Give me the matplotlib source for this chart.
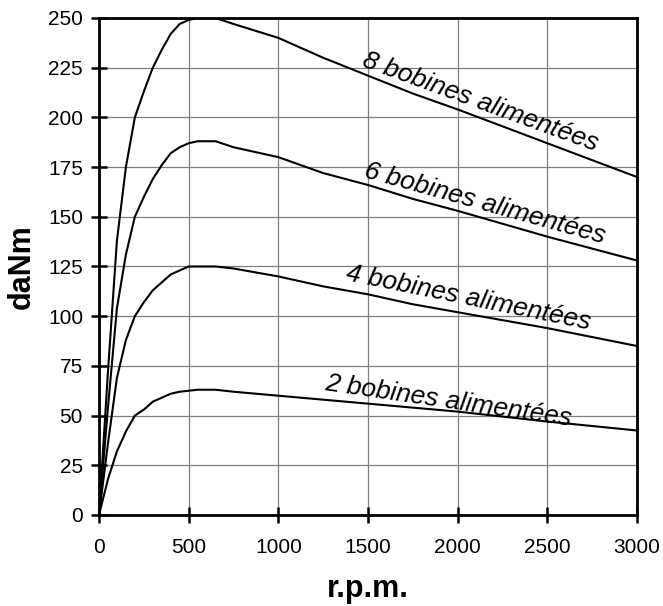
import matplotlib.pyplot as plt

plt.rcParams['font.family'] = ['Liberation Sans', 'DejaVu Sans']

# vitesse (tr/min) et couple (daNm) pour chaque nombre de bobines
rpm = [0, 50, 100, 150, 200, 250, 300, 350, 400, 450, 500, 550, 650, 750,
       1000, 1250, 1500, 1750, 2000, 2500, 3000]

couple_8 = [0, 72, 138, 175, 200, 213, 225, 234, 242, 247, 249, 250, 250, 247,
            240, 230, 221, 212, 204, 187, 170]
couple_6 = [0, 54, 104, 131, 150, 160, 169, 176, 182, 185, 187, 188, 188, 185,
            180, 172, 166, 159, 153, 140, 128]
couple_4 = [0, 36, 69, 88, 100, 107, 113, 117, 121, 123, 125, 125, 125, 124,
            120, 115, 111, 106, 102, 94, 85]
couple_2 = [0, 18, 32, 42, 50, 53, 57, 59, 61, 62, 62.5, 63, 63, 62,
            60, 58, 56, 54, 52, 47, 42.5]

labels = ["8 bobines alimentées", "6 bobines alimentées",
          "4 bobines alimentées", "2 bobines alimentées"]
label_x = [1460, 1470, 1370, 1255]
label_y = [226, 170, 118, 63]
label_angle = [-20, -15.5, -11.5, -8.3]

fig = plt.figure(figsize=(6.63, 6.06), dpi=100)
ax = fig.add_axes([0.1493, 0.1502, 0.8115, 0.8201])

for c in [couple_8, couple_6, couple_4, couple_2]:
    ax.plot(rpm, c, color='black', lw=1.5, zorder=3)

for txt, x, y, a in zip(labels, label_x, label_y, label_angle):
    ax.text(x, y, txt, rotation=a, rotation_mode='anchor', ha='left',
            va='baseline', fontsize=19, style='italic', zorder=4)

ax.set_xlim(0, 3000)
ax.set_ylim(0, 250)
ax.set_xticks(range(0, 3001, 500))
ax.set_yticks(range(0, 251, 25))
ax.grid(True, color='#7f7f7f', lw=0.9)
ax.set_axisbelow(True)

for s in ax.spines.values():
    s.set_linewidth(2)
ax.tick_params(direction='inout', length=11, width=1.8, labelsize=15, pad=6)
ax.tick_params(axis='x', pad=11)

ax.set_xlabel('r.p.m.', fontsize=22, fontweight='bold', labelpad=12)
ax.set_ylabel('daNm', fontsize=22, fontweight='bold', labelpad=8)

fig.savefig('out.png', dpi=100)
